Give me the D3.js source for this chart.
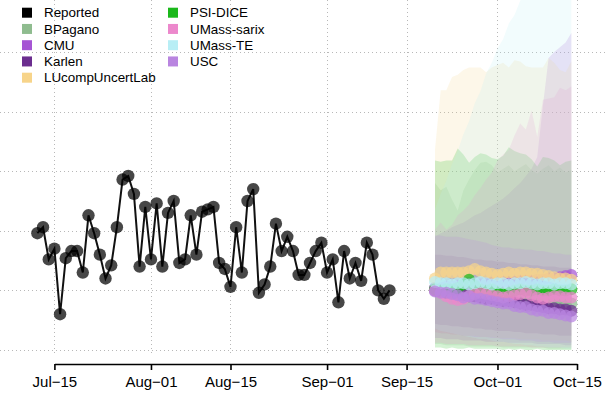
<!DOCTYPE html>
<html><head><meta charset="utf-8">
<script src="https://cdn.jsdelivr.net/npm/d3@7"></script>
<style>
html,body{margin:0;padding:0;background:#fff;}
svg{display:block;font-family:"Liberation Sans",Arial,Helvetica,sans-serif;}
</style></head>
<body>
<svg id="chart" width="605" height="400"></svg>
<script>
// ---------- data ----------
const reportedStart = "2022-07-12";
const reported = [98,103,76,85,30,77,83,83,65,113,98,80,60,71,103,143,146,131,70,120,
  76,123,70,115,125,73,76,113,80,116,118,120,73,68,53,103,65,125,135,48,
  55,70,106,83,95,83,63,63,73,83,90,65,76,40,83,60,73,58,90,80,50,43,50];

const forecastStart = "2022-09-20";

const models = ["BPagano","CMU","Karlen","LUcompUncertLab","PSI-DICE","UMass-sarix","UMass-TE","USC"];
const modelColors = ["#8fbc8f","#a655d4","#6b2d8f","#f7d48a","#1bb81b","#ec88cc","#b8eef5","#b985e0"];

const bpaganoMedian = [52,51,52,50,50,49,50,48,48,47,48,46,46,45,46,44,44,43,44,42,42,41,40,41,39];
const bpaganoLower  = [5,5,4,4,4,4,3,3,3,3,3,3,2,2,2,2,2,2,2,2,1,1,1,1,1];
const bpaganoUpper  = [140,134,137,126,117,134,143,151,157,158,155,149,152,155,150,153,156,151,148,152,155,150,153,149,151];

const cmuMedian = [52,52,53,53,54,54,55,55,55,56,56,56,57,57,57,58,58,58,59,59,60,60,61,62,63];
const cmuLower  = [10,10,9,9,9,8,8,8,8,7,7,7,7,6,6,6,6,6,5,5,5,5,5,4,4];
const cmuUpper  = [95,98,100,103,105,107,110,113,115,118,121,124,127,131,136,140,146,152,162,205,245,250,254,258,266];

const karlenMedian = [50,49,48,48,47,46,45,45,44,43,43,42,41,41,40,39,38,38,37,36,35,35,34,34,33];
const karlenLower  = [22,21,21,20,20,19,19,18,18,17,17,16,16,16,15,15,14,14,14,13,13,13,12,12,12];
const karlenUpper  = [80,80,79,79,78,78,77,76,76,75,75,74,74,73,73,72,72,71,71,70,70,70,69,69,69];

const lucompMedian = [60,65,65,65,65,65,66,68,66,65,64,63,64,65,64,65,65,64,64,63,62,61,60,60,59];
const lucompLower  = [15,14,14,13,13,12,12,12,11,11,11,10,10,10,10,9,9,9,9,8,8,8,8,8,7];
const lucompUpper  = [168,218,218,229,231,235,237,237,237,233,237,239,241,237,243,242,238,237,237,237,245,241,235,233,242];

const psiMedian = [51,50,51,51,52,55,59,54,51,50,51,49,47,48,50,51,50,50,51,50,50,51,50,50,51];
const psiLower  = [2,2,1,2,1,1,2,1,1,1,1,1,0,1,0,1,0,0,1,0,0,0,0,0,0];
const psiUpper  = [159,158,159,159,169,164,157,162,165,164,161,160,163,170,167,165,164,160,154,162,161,159,155,158,159];

const sarixMedian = [50,48,45,43,42,43,45,47,48,47,46,45,44,45,46,47,48,46,44,43,44,45,45,44,44];
const sarixLower  = [6,6,5,5,5,5,4,4,4,4,4,3,3,3,3,3,3,2,2,2,2,2,2,2,2];
const sarixUpper  = [101,107,101,105,113,117,122,130,136,143,149,159,164,168,180,190,185,201,179,210,211,212,220,218,221];

const teMedian = [57,56,56,55,56,56,55,56,57,56,55,56,56,55,56,56,57,56,55,56,56,55,56,56,55];
const teLower  = [18,16,15,14,13,12,11,10,9,9,8,7,7,6,5,5,4,4,3,3,2,2,2,1,1];
const teUpper  = [118,131,142,156,167,181,192,207,217,232,241,253,261,274,281,293,300,314,321,335,343,358,366,382,390];

const uscMedian = [49,48,48,47,46,44,45,43,43,42,41,40,39,39,37,36,36,34,33,33,31,31,30,29,28];
const uscLower  = [15,14,14,13,13,12,12,11,11,11,10,10,9,9,9,8,8,8,7,7,7,6,6,6,6];
const uscUpper  = [96,96,95,95,95,94,93,92,91,90,88,87,86,86,85,85,84,84,83,83,82,81,81,80,80];

const tickDates  = ["2022-07-15","2022-08-01","2022-08-15","2022-09-01","2022-09-15","2022-10-01","2022-10-15"];
const tickLabels = ["Jul\u221215","Aug\u221201","Aug\u221215","Sep\u221201","Sep\u221215","Oct\u221201","Oct\u221215"];
const gridValues = [0,50,100,150,200,250];

// ---------- build ----------
const medians = [bpaganoMedian,cmuMedian,karlenMedian,lucompMedian,psiMedian,sarixMedian,teMedian,uscMedian];
const lowers  = [bpaganoLower,cmuLower,karlenLower,lucompLower,psiLower,sarixLower,teLower,uscLower];
const uppers  = [bpaganoUpper,cmuUpper,karlenUpper,lucompUpper,psiUpper,sarixUpper,teUpper,uscUpper];

const parse = d3.utcParse("%Y-%m-%d");
const rStart = parse(reportedStart), fStart = parse(forecastStart);
const reportedData = reported.map((v,i)=>({date:d3.utcDay.offset(rStart,i), v}));
const modelData = models.map((m,k)=>({
  name:m, color:modelColors[k],
  pts: medians[k].map((v,i)=>({date:d3.utcDay.offset(fStart,i), v, lo:lowers[k][i], hi:uppers[k][i]}))
}));

const svg = d3.select("#chart");
const x = d3.scaleUtc().domain([parse(tickDates[0]), parse(tickDates[tickDates.length-1])]).range([54.4,577]);
const y = d3.scaleLinear().domain([0,250]).range([350,52]);

// grid
const grid = svg.append("g").attr("stroke","#b8b8b8").attr("stroke-width",1).attr("stroke-dasharray","1,3");
grid.selectAll("line.h").data(gridValues).join("line").attr("class","h")
  .attr("x1",0).attr("x2",605).attr("y1",d=>Math.round(y(d))+0.5).attr("y2",d=>Math.round(y(d))+0.5);
grid.selectAll("line.v").data(tickDates).join("line").attr("class","v")
  .attr("x1",d=>Math.round(x(parse(d)))+0.5).attr("x2",d=>Math.round(x(parse(d)))+0.5)
  .attr("y1",0).attr("y2",356);

// bands
const area = d3.area().x(d=>x(d.date)).y0(d=>y(d.lo)).y1(d=>y(d.hi));
svg.append("g").selectAll("path").data(modelData).join("path")
  .attr("d",d=>area(d.pts)).attr("fill",d=>d.color).attr("fill-opacity",0.19);

// reported
const line = d3.line().x(d=>x(d.date)).y(d=>y(d.v));
svg.append("path").datum(reportedData).attr("d",line).attr("fill","none")
  .attr("stroke","#111").attr("stroke-width",2);
svg.append("g").selectAll("circle").data(reportedData).join("circle")
  .attr("cx",d=>x(d.date)).attr("cy",d=>y(d.v)).attr("r",6.2)
  .attr("fill","#000").attr("fill-opacity",0.72);

// forecast points
modelData.forEach(m=>{
  svg.append("g").selectAll("circle").data(m.pts).join("circle")
    .attr("cx",d=>x(d.date)).attr("cy",d=>y(d.v)).attr("r",6)
    .attr("fill",m.color).attr("fill-opacity",0.72);
});

// axis
const axis = d3.axisBottom(x).tickValues(tickDates.map(parse))
  .tickFormat((d,i)=>tickLabels[i]).tickSize(6).tickSizeOuter(0).tickPadding(6);
const ax = svg.append("g").attr("transform","translate(0,364)").call(axis);
ax.select(".domain").attr("stroke","#000").attr("stroke-width",1.6);
ax.selectAll(".tick line").attr("stroke","#000").attr("stroke-width",1.6);
ax.selectAll(".tick text").attr("fill","#000").style("font-size","15px")
  .style("font-family","'Liberation Sans',Arial,Helvetica,sans-serif");

// legend
const legendNames = ["Reported"].concat(models);
const legendColors = ["#000"].concat(modelColors);
const lg = svg.append("g");
legendNames.forEach((n,i)=>{
  const col = i<5?0:1, row = i<5?i:i-5;
  const gx = col===0?22:168, gy = 12.7+row*16.25;
  lg.append("rect").attr("x",gx).attr("y",gy-5).attr("width",10).attr("height",10).attr("fill",legendColors[i]);
  lg.append("text").attr("x",gx+22).attr("y",gy).attr("dy","0.35em")
    .style("font-size","13.4px").attr("fill","#000").text(n);
});
</script>
</body></html>
